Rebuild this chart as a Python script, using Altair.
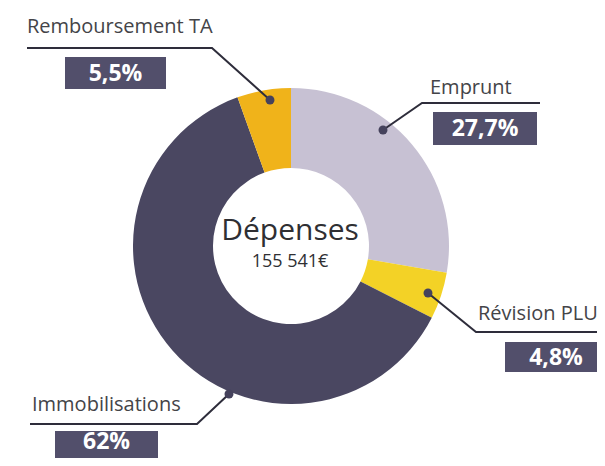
import altair as alt
import pandas as pd

# ---- data ----
categories = ["Emprunt", "Révision PLU", "Immobilisations", "Remboursement TA"]
shares = [27.7, 4.8, 62.0, 5.5]
share_labels = ["27,7%", "4,8%", "62%", "5,5%"]
center_title = "Dépenses"
center_total = "155 541€"

# ---- style ----
slice_colors = ["#c7c1d3", "#f3d226", "#4a4761", "#f0b31a"]
box_color = "#524f6b"
line_color = "#2e2d3b"
text_color = "#444448"
FONT = "Open Sans"

W, H = 589, 450
CX, CY = 283, 238          # donut centre (chart px)
R_OUT, R_IN = 158, 78

# ---- annotation layout (chart px) ----
layout = {
    "Emprunt":          dict(tx=422, ty=86, dot=(375, 122), elbow=(414, 95), ulend=(532, 95),  box=(425, 529, 104, 137), boxty=121),
    "Révision PLU":     dict(tx=470, ty=312, dot=(420, 285), elbow=(468, 324), ulend=(600, 324), box=(497, 599, 334, 364), boxty=350),
    "Immobilisations":  dict(tx=24, ty=403, dot=(221, 386), elbow=(189, 416), ulend=(22, 416),  box=(47, 150, 423, 467), boxty=434),
    "Remboursement TA": dict(tx=19, ty=25, dot=(262, 92),  elbow=(204, 40),  ulend=(19, 40),   box=(57, 158, 49, 81), boxty=66),
}

pie_df = pd.DataFrame({
    "category": categories,
    "share": shares,
    "order": list(range(len(categories))),
})

label_rows, line_rows, dot_rows, box_rows = [], [], [], []
for cat, lab in zip(categories, share_labels):
    L = layout[cat]
    label_rows.append(dict(category=cat, x=L["tx"], y=L["ty"]))
    for i, (px, py) in enumerate([L["dot"], L["elbow"], L["ulend"]]):
        line_rows.append(dict(category=cat, seq=i, x=px, y=py))
    dot_rows.append(dict(category=cat, x=L["dot"][0], y=L["dot"][1]))
    bx0, bx1, by0, by1 = L["box"]
    box_rows.append(dict(category=cat, label=lab, x=bx0, x2=bx1, y=by0, y2=by1,
                         cx=(bx0 + bx1) / 2, cy=L["boxty"]))

labels_df = pd.DataFrame(label_rows)
lines_df = pd.DataFrame(line_rows)
dots_df = pd.DataFrame(dot_rows)
boxes_df = pd.DataFrame(box_rows)
center_df = pd.DataFrame({"t": [center_title, center_total], "x": [CX - 1, CX - 1], "y": [232, 259]})

xs = alt.Scale(domain=[0, W], nice=False, zero=False)
ys = alt.Scale(domain=[0, H], nice=False, zero=False, reverse=True)

donut = alt.Chart(pie_df).mark_arc(innerRadius=R_IN, outerRadius=R_OUT).encode(
    theta=alt.Theta("share:Q", stack=True),
    color=alt.Color("category:N", scale=alt.Scale(domain=categories, range=slice_colors), legend=None),
    order=alt.Order("order:Q", sort="ascending"),
    x=alt.value(CX),
    y=alt.value(CY),
)

lines = alt.Chart(lines_df).mark_line(color=line_color, strokeWidth=2).encode(
    x=alt.X("x:Q", scale=xs, axis=None),
    y=alt.Y("y:Q", scale=ys, axis=None),
    detail="category:N",
    order=alt.Order("seq:Q"),
)

dots = alt.Chart(dots_df).mark_point(filled=True, size=80, opacity=1, color="#45425c", strokeWidth=0).encode(
    x=alt.X("x:Q", scale=xs, axis=None),
    y=alt.Y("y:Q", scale=ys, axis=None),
)

labels = alt.Chart(labels_df).mark_text(align="left", baseline="alphabetic", font=FONT, fontSize=20, color=text_color).encode(
    x=alt.X("x:Q", scale=xs, axis=None),
    y=alt.Y("y:Q", scale=ys, axis=None),
    text="category:N",
)

boxes = alt.Chart(boxes_df).mark_rect(color=box_color).encode(
    x=alt.X("x:Q", scale=xs, axis=None),
    x2="x2:Q",
    y=alt.Y("y:Q", scale=ys, axis=None),
    y2="y2:Q",
)

box_text = alt.Chart(boxes_df).mark_text(align="center", baseline="middle", font=FONT, fontSize=23, fontWeight="bold", color="white").encode(
    x=alt.X("cx:Q", scale=xs, axis=None),
    y=alt.Y("cy:Q", scale=ys, axis=None),
    text="label:N",
)

center_big = alt.Chart(center_df.iloc[[0]]).mark_text(align="center", baseline="alphabetic", font=FONT, fontSize=30, color="#2f2f33").encode(
    x=alt.X("x:Q", scale=xs, axis=None),
    y=alt.Y("y:Q", scale=ys, axis=None),
    text="t:N",
)
center_small = alt.Chart(center_df.iloc[[1]]).mark_text(align="center", baseline="alphabetic", font=FONT, fontSize=18, color="#2f2f33").encode(
    x=alt.X("x:Q", scale=xs, axis=None),
    y=alt.Y("y:Q", scale=ys, axis=None),
    text="t:N",
)

chart = alt.layer(donut, lines, dots, boxes, box_text, labels, center_big, center_small).properties(
    width=W, height=H, padding=0,
    autosize=alt.AutoSizeParams(type="none"),
).configure(background="white").configure_view(stroke=None)

chart.save("out.html", embed_options={"renderer": "svg", "actions": False})
